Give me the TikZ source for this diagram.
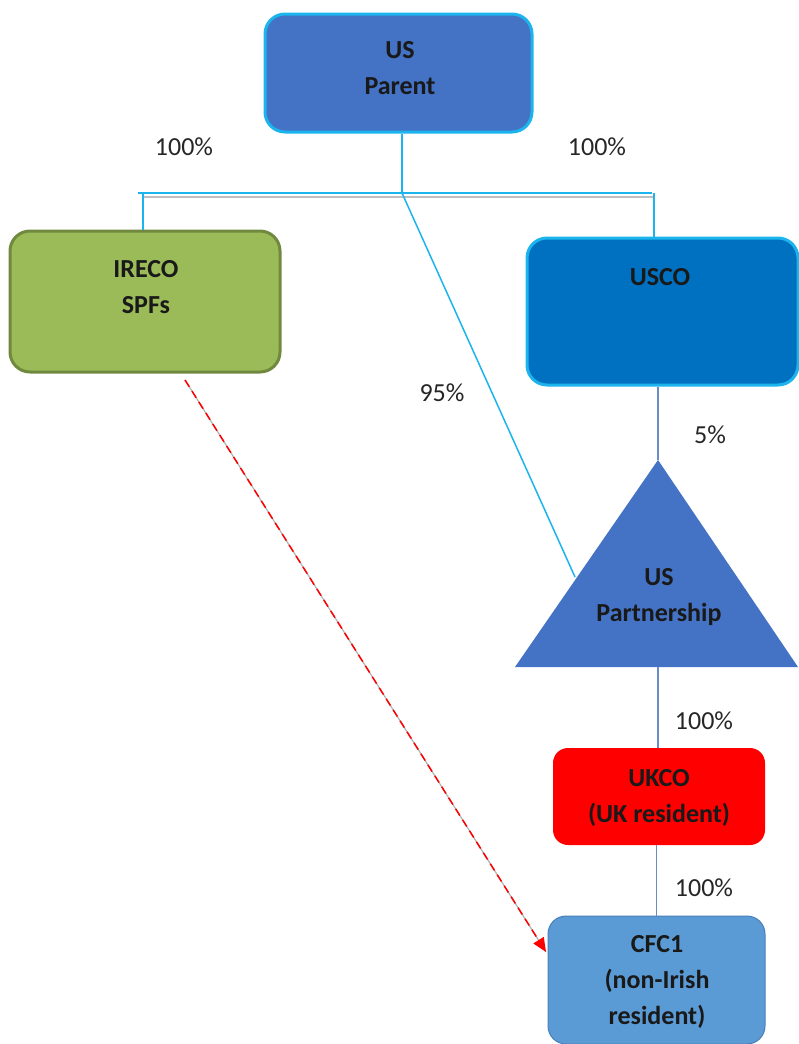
\documentclass[tikz,border=0pt]{standalone}
\usepackage{fontspec}
\setmainfont{Carlito}
\usetikzlibrary{arrows.meta,calc}
\definecolor{parentblue}{HTML}{4472C4}
\definecolor{cyanedge}{HTML}{1CB4EC}
\definecolor{irecogreen}{HTML}{9BBB59}
\definecolor{irecoedge}{HTML}{71893F}
\definecolor{uscoblue}{HTML}{0070C0}
\definecolor{cfcblue}{HTML}{5B9BD5}
\definecolor{cfcedge}{HTML}{4A7EBB}
\definecolor{linkblue}{HTML}{6A8CC7}
\begin{document}
\begin{tikzpicture}[x=1pt,y=-1pt,
    entity/.style={rounded corners=20pt,line width=3pt},
    boxtext/.style={align=center,font=\fontsize{26}{36}\selectfont\bfseries,text=black!90},
    pct/.style={font=\fontsize{26}{30}\selectfont,text=black!85},
    ownline/.style={cyanedge,line width=1.5pt},
    thinlink/.style={linkblue,line width=1.3pt}]
\useasboundingbox (0,0) rectangle (798,1044);

% entities
\node[entity,draw=cyanedge,fill=parentblue,minimum width=267pt,minimum height=118pt] (usp) at (398.5,73) {};
\node[boxtext] (usptext) at (400,68) {US\\Parent};
\node[entity,draw=irecoedge,fill=irecogreen,minimum width=270pt,minimum height=141pt] (ireco) at (145,301.5) {};
\node[boxtext] (irecotext) at (146,287) {IRECO\\SPFs};
\node[entity,draw=cyanedge,fill=uscoblue,minimum width=271pt,minimum height=147pt] (usco) at (662.5,311.5) {};
\node[boxtext] (uscotext) at (660,277) {USCO};

% partnership triangle
\coordinate (apex) at (658,460);
\coordinate (baseL) at (515,667);
\coordinate (baseR) at (798,667);
\fill[parentblue] (apex) -- (baseR) -- (baseL) -- cycle;
\node[boxtext] (ustext) at (659,597) {US\\Partnership};

\node[rounded corners=15pt,fill=red,minimum width=212pt,minimum height=97pt] (ukco) at (659,796.5) {};
\node[boxtext] (ukcotext) at (659,798) {UKCO\\(UK resident)};
\node[rounded corners=18pt,draw=cfcedge,line width=1pt,fill=cfcblue,minimum width=217pt,minimum height=128pt] (cfc) at (656.5,980) {};
\node[boxtext] (cfctext) at (657,982) {CFC1\\(non-Irish\\resident)};

% ownership lines
\coordinate (hub) at (402,193);
\coordinate (barL) at (138,193);
\coordinate (barR) at (652,193);
\coordinate (dropL) at (143,193);
\coordinate (dropR) at (654,193);
\coordinate (tri95) at (575,577);
\draw[ownline] (usp.south -| hub) -- (hub);
\draw[ownline] (barL) -- (barR);
\draw[black!25,line width=1.5pt] ($(dropL)+(0,4)$) -- ($(dropR)+(0,4)$);
\draw[ownline] (dropL) -- (ireco.north -| dropL);
\draw[ownline] (dropR) -- (usco.north -| dropR);
\draw[ownline] (hub) -- (tri95);
\draw[thinlink] (usco.south -| apex) -- (apex);
\draw[thinlink] (apex |- baseL) -- (ukco.north -| apex);
\draw[thinlink] (ukco.south -| cfc.north) -- (cfc.north);

% SPF dashed arrow
\coordinate (spf) at (185,380);
\coordinate (spfend) at (546,952);
\draw[black!30,line width=1.2pt] (spf) -- (spfend);
\draw[red,line width=1.5pt,dash pattern=on 8pt off 5pt,-{Triangle[length=14pt,width=12pt]}] (spf) -- (spfend);

% percentages
\node[pct] (p1) at (184,147) {100\%};
\node[pct] (p2) at (597,147) {100\%};
\node[pct] (p3) at (442,393) {95\%};
\node[pct] (p4) at (710,435) {5\%};
\node[pct] (p5) at (704,721) {100\%};
\node[pct] (p6) at (704,888) {100\%};
\end{tikzpicture}
\end{document}
